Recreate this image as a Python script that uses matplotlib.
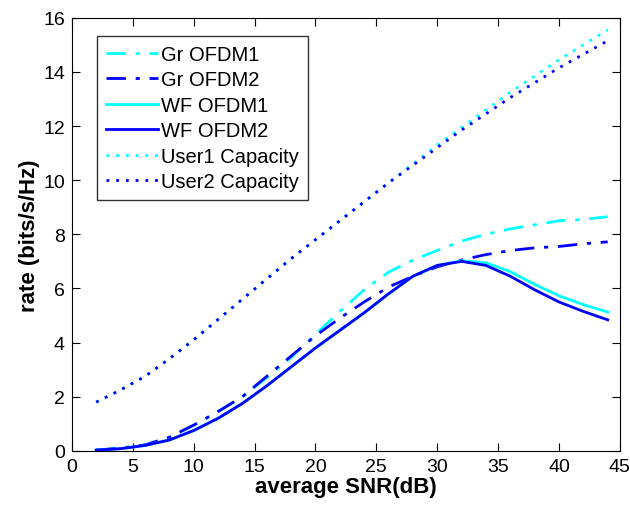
import numpy as np
import matplotlib.pyplot as plt

plt.rcParams.update({'font.family': 'Liberation Sans', 'font.size': 14})

snr = [2, 4, 6, 8, 10, 12, 14, 16, 18, 20, 22, 24, 26, 28, 30, 32, 34, 36, 38, 40, 42, 44]

gr_ofdm1 = [0.03, 0.1, 0.22, 0.5, 0.95, 1.45, 2.0, 2.7, 3.45, 4.3, 5.15, 5.95, 6.6, 7.05,
            7.4, 7.75, 8.0, 8.2, 8.35, 8.5, 8.55, 8.65]
gr_ofdm2 = [0.03, 0.1, 0.22, 0.5, 0.95, 1.45, 2.0, 2.75, 3.5, 4.25, 4.9, 5.5, 6.05, 6.45,
            6.8, 7.05, 7.25, 7.4, 7.5, 7.55, 7.65, 7.72]
wf_ofdm1 = [0.03, 0.08, 0.2, 0.4, 0.75, 1.2, 1.75, 2.4, 3.1, 3.8, 4.45, 5.1, 5.8, 6.45,
            6.85, 7.02, 6.95, 6.62, 6.15, 5.73, 5.4, 5.13]
wf_ofdm2 = [0.03, 0.08, 0.2, 0.4, 0.75, 1.2, 1.75, 2.4, 3.1, 3.8, 4.45, 5.1, 5.8, 6.45,
            6.85, 7.0, 6.85, 6.45, 5.95, 5.5, 5.15, 4.84]
cap_user1 = [1.8, 2.25, 2.75, 3.4, 4.1, 4.85, 5.6, 6.35, 7.1, 7.8, 8.5, 9.2, 9.9, 10.6,
             11.3, 11.95, 12.6, 13.25, 13.85, 14.45, 15.0, 15.55]
cap_user2 = [1.8, 2.25, 2.75, 3.4, 4.1, 4.85, 5.6, 6.35, 7.1, 7.8, 8.5, 9.2, 9.9, 10.55,
             11.2, 11.85, 12.45, 13.05, 13.6, 14.15, 14.65, 15.15]

fig = plt.figure(figsize=(6.3, 5.06), dpi=100)
ax = fig.add_axes([0.114, 0.107, 0.87, 0.856])

dashdot = (0, (7, 3.5, 1.5, 3.5))
dotted = (0, (1, 2.5))
ax.plot(snr, gr_ofdm1, color='cyan', lw=2, ls=dashdot, label='Gr OFDM1')
ax.plot(snr, gr_ofdm2, color='blue', lw=2, ls=dashdot, label='Gr OFDM2')
ax.plot(snr, wf_ofdm1, color='cyan', lw=2, ls='-', label='WF OFDM1')
ax.plot(snr, wf_ofdm2, color='blue', lw=2, ls='-', label='WF OFDM2')
ax.plot(snr, cap_user1, color='cyan', lw=2, ls=dotted, label='User1 Capacity')
ax.plot(snr, cap_user2, color='blue', lw=2, ls=dotted, label='User2 Capacity')

ax.set_xlim(0, 45)
ax.set_ylim(0, 16)
ax.set_xticks(np.arange(0, 46, 5))
ax.set_yticks(np.arange(0, 17, 2))
ax.tick_params(direction='in', top=True, right=True, length=6, labelsize=14, pad=5)
ax.set_xlabel('average SNR(dB)', fontweight='bold', fontsize=16, labelpad=1)
ax.set_ylabel('rate (bits/s/Hz)', fontweight='bold', fontsize=16, labelpad=2)

leg = ax.legend(loc='upper left', bbox_to_anchor=(0.046, 0.958), borderaxespad=0,
                fancybox=False, edgecolor='black', fontsize=14.5, handlelength=2.6,
                handletextpad=0.15, labelspacing=0.32, borderpad=0.45)
leg.get_frame().set_linewidth(1.0)

plt.savefig('out.png', dpi=100)
